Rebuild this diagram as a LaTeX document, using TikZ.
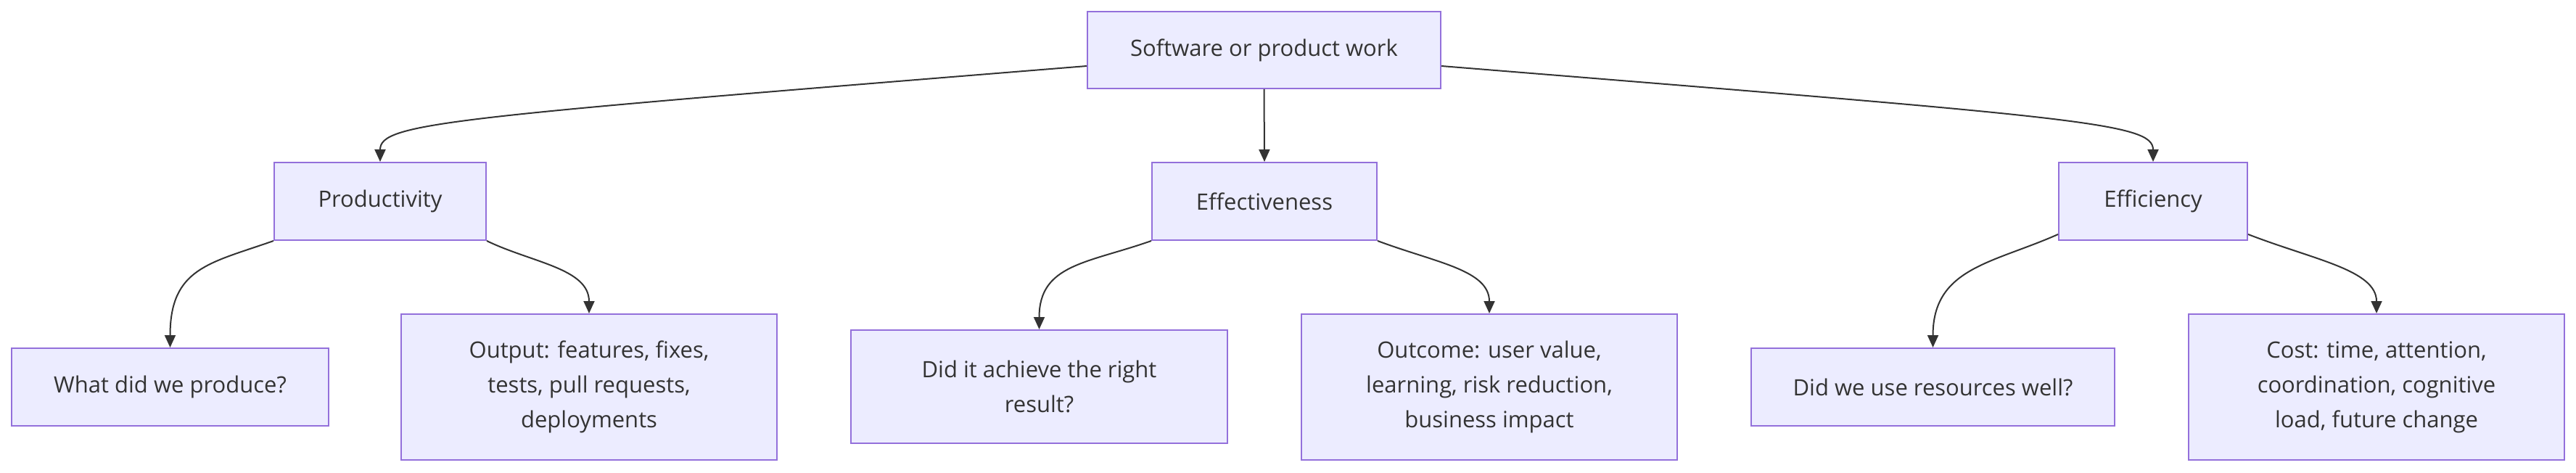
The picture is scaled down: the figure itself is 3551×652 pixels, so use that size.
\documentclass[tikz,border=0pt]{standalone}
\usepackage{fontspec}
\setmainfont{Open Sans}
\usetikzlibrary{arrows.meta}
\definecolor{nodefill}{HTML}{ECECFF}
\definecolor{nodeline}{HTML}{9370DB}
\definecolor{txt}{HTML}{333333}
\definecolor{edge}{HTML}{333333}
\tikzset{
  box/.style={draw=nodeline, fill=nodefill, line width=2pt, inner sep=0pt,
    text=txt, align=center, font=\fontsize{31}{48}\selectfont},
  link/.style={draw=edge, line width=2pt, -{Triangle[length=17pt,width=15pt]}},
}
\begin{document}
\begin{tikzpicture}[x=1pt, y=-1pt]
\useasboundingbox (0,0) rectangle (3551,652);
\node[box, minimum width=487pt, minimum height=106pt] (top) at (1742.5,69) {Software or product work};
\node[box, minimum width=292pt, minimum height=107pt] (prod) at (524,277.5) {Productivity};
\node[box, minimum width=310pt, minimum height=107pt] (eff) at (1743,277.5) {Effectiveness};
\node[box, minimum width=260pt, minimum height=107pt] (effi) at (2968,277.5) {Efficiency};
\node[box, minimum width=437pt, minimum height=107pt] (what) at (234.5,533.5) {What did we produce?};
\node[box, minimum width=518pt, minimum height=201pt] (output) at (812,533.5) {Output: features, fixes,\\ tests, pull requests,\\ deployments};
\node[box, minimum width=519pt, minimum height=156pt] (didit) at (1432.5,533) {Did it achieve the right\\ result?};
\node[box, minimum width=518pt, minimum height=201pt] (outcome) at (2053,533.5) {Outcome: user value,\\ learning, risk reduction,\\ business impact};
\node[box, minimum width=501pt, minimum height=107pt] (didwe) at (2664.5,533.5) {Did we use resources well?};
\node[box, minimum width=518pt, minimum height=201pt] (cost) at (3276,533.5) {Cost: time, attention,\\ coordination, cognitive\\ load, future change};

\draw[link] ([yshift=-22pt]top.west) .. controls +(-879,71) and +(0,-54) .. (prod.north);
\draw[link] (top.south) -- (eff.north);
\draw[link] ([yshift=-22pt]top.east) .. controls +(879,71) and +(0,-54) .. (effi.north);

\draw[link] (prod.south west) .. controls +(-88,31) and +(0,-110) .. (what.north);
\draw[link] (prod.south east) .. controls +(62,30) and +(0,-62) .. (output.north);
\draw[link] (eff.south west) .. controls +(-88,31) and +(0,-90) .. (didit.north);
\draw[link] (eff.south east) .. controls +(80,30) and +(0,-60) .. (outcome.north);
\draw[link] ([yshift=9pt]effi.south west) .. controls +(-90,40) and +(0,-110) .. (didwe.north);
\draw[link] ([yshift=9pt]effi.south east) .. controls +(90,35) and +(0,-60) .. (cost.north);
\end{tikzpicture}
\end{document}
